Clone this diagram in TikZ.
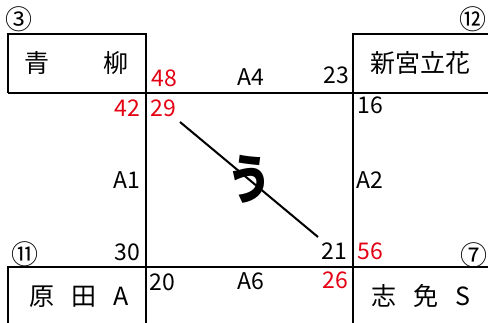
\documentclass[tikz,border=0pt]{standalone}
\usepackage{fontspec}
\setmainfont{Noto Sans CJK JP}
\usepackage{xcolor}
\usetikzlibrary{positioning}
\definecolor{numred}{RGB}{228,0,18}

\begin{document}
\begin{tikzpicture}[
    x=1pt, y=-1pt,
    wall/.style={line width=2.8pt, line join=miter},
    link/.style={line width=2pt},
    num/.style={inner sep=0pt, font=\fontsize{23}{23}\selectfont},
    rnum/.style={num, text=numred},
    jp/.style={inner sep=0pt, font=\fontsize{25}{25}\selectfont},
    circ/.style={inner sep=0pt, font=\fontsize{27}{27}\selectfont},
    big/.style={inner sep=0pt, xscale=0.82, font=\fontsize{54}{54}\bfseries}
]
\useasboundingbox (0,0) rectangle (488,323);

% grid corners
\coordinate (lt) at (8,34);
\coordinate (lm) at (8,93);
\coordinate (lb) at (8,267);
\coordinate (ld) at (8,323);
\coordinate (ct) at (146,34);
\coordinate (cd) at (146,323);
\coordinate (rt) at (353,34);
\coordinate (rd) at (353,323);
\coordinate (et) at (488,34);
\coordinate (em) at (488,93);
\coordinate (eb) at (488,267);

\draw[wall] (lm) -- (lt) -- (ct) -- (cd);
\draw[wall] (et) -- (rt) -- (rd);
\draw[wall] (lm) -- (em);
\draw[wall] (ld) -- (lb) -- (eb);

% corner boxes
\node[circ] (c3) at (19,19) {③};
\node[circ] (c12) at (473,19) {⑫};
\node[circ] (c11) at (25,254) {⑪};
\node[circ] (c7) at (474,255) {⑦};

\node[jp] (ao) at (37,63) {青};
\node[jp] (yanagi) at (116,63) {柳};
\node[jp] (shingu) at (420,63) {新宮立花};
\node[jp] (harada) at (79,297) {原\hspace{17pt}田\hspace{17pt}A};
\node[jp] (shime) at (421,296) {志\hspace{17pt}免\hspace{17pt}S};

% numbers round the centre block
\node[rnum] (n48) at (164,78) {48};
\node[num] (a4) at (251,77) {A4};
\node[num] (n23) at (336,75) {23};
\node[rnum] (n42) at (127,108) {42};
\node[rnum] (n29) at (163,108) {29};
\node[num] (n16) at (370,105) {16};
\node[num] (a1) at (127,180) {A1};
\node[num] (a2) at (370,180) {A2};
\node[num] (n30) at (127,252) {30};
\node[num] (n21) at (334,251) {21};
\node[rnum] (n56) at (370,251) {56};
\node[num] (n20) at (162,282) {20};
\node[num] (a6) at (251,281) {A6};
\node[rnum] (n26) at (335,280) {26};

% diagonal
\coordinate (dtop) at (180,122);
\coordinate (dbot) at (318,237);
\draw[link] (dtop) -- (dbot);
\node[big] (u) at (250,179) {う};
\end{tikzpicture}
\end{document}
